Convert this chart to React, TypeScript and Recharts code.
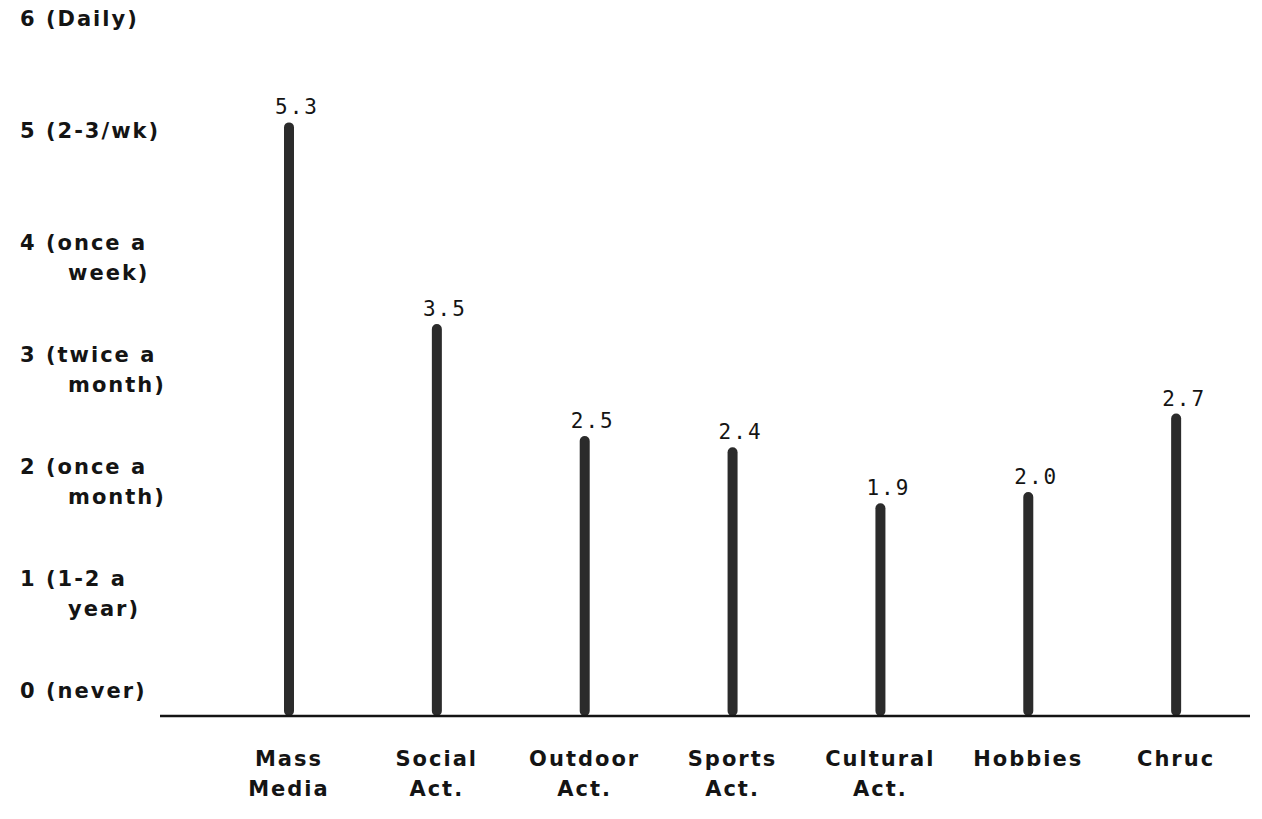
import { BarChart, Bar, XAxis, YAxis, LabelList } from 'recharts'

// Mean participation frequency per leisure activity
const activities = [
  'Mass Media',
  'Social Act.',
  'Outdoor Act.',
  'Sports Act.',
  'Cultural Act.',
  'Hobbies',
  'Chruc',
]
const meanFrequency = [5.3, 3.5, 2.5, 2.4, 1.9, 2.0, 2.7]

const frequencyTicks = [0, 1, 2, 3, 4, 5, 6]
const frequencyLabels = [
  ['0 (never)'],
  ['1  (1-2 a', 'year)'],
  ['2 (once a', 'month)'],
  ['3 (twice a', 'month)'],
  ['4 (once a', 'week)'],
  ['5 (2-3/wk)'],
  ['6 (Daily)'],
]

const data = activities.map((name, i) => ({ name, value: meanFrequency[i] }))

const INK = '#141414'
const FONT = '"DejaVu Sans", sans-serif'
const MONO = '"DejaVu Sans Mono", monospace'

const YTick = (props: any) => {
  const { y, payload } = props
  const idx = frequencyTicks.indexOf(payload.value)
  const lines = frequencyLabels[idx] || [String(payload.value)]
  return (
    <g>
      {lines.map((line, i) => (
        <text
          key={i}
          x={20 + (i > 0 ? 48 : 0)}
          y={y - 18 + i * 30}
          fill={INK}
          fontFamily={FONT}
          fontWeight="bold"
          fontSize={21}
          letterSpacing={2}
          textAnchor="start"
        >
          {line}
        </text>
      ))}
    </g>
  )
}

const XTick = (props: any) => {
  const { x, y, payload } = props
  const words = String(payload.value).split(' ')
  return (
    <g>
      {words.map((w, i) => (
        <text
          key={i}
          x={x}
          y={y + 42 + i * 30}
          fill={INK}
          fontFamily={FONT}
          fontWeight="bold"
          fontSize={21}
          letterSpacing={2}
          textAnchor="middle"
        >
          {w}
        </text>
      ))}
    </g>
  )
}

const ValueLabel = (props: any) => {
  const { x, y, width, value } = props
  return (
    <text
      x={x + width / 2 + 8}
      y={y - 8}
      fill={INK}
      fontFamily={MONO}
      fontSize={21}
      letterSpacing={2}
      textAnchor="middle"
    >
      {Number(value).toFixed(1)}
    </text>
  )
}

export default function App() {
  return (
    <div
      style={{
        position: 'absolute',
        left: 0,
        top: 0,
        width: 1262,
        height: 819,
        background: '#fff',
      }}
    >
      <BarChart
        width={1262}
        height={819}
        data={data}
        margin={{ top: 44, right: 12, bottom: 13, left: 0 }}
      >
        <XAxis
          dataKey="name"
          height={90}
          interval={0}
          tickLine={false}
          axisLine={{ stroke: INK, strokeWidth: 2.5 }}
          padding={{ left: 55, right: 0 }}
          tick={<XTick />}
        />
        <YAxis
          type="number"
          domain={[0, 6]}
          ticks={frequencyTicks}
          interval={0}
          width={160}
          axisLine={false}
          tickLine={false}
          tick={<YTick />}
        />
        <Bar
          dataKey="value"
          fill="#2b2b2b"
          barSize={10}
          radius={[5, 5, 5, 5]}
          isAnimationActive={false}
        >
          <LabelList dataKey="value" content={<ValueLabel />} />
        </Bar>
      </BarChart>
    </div>
  )
}
